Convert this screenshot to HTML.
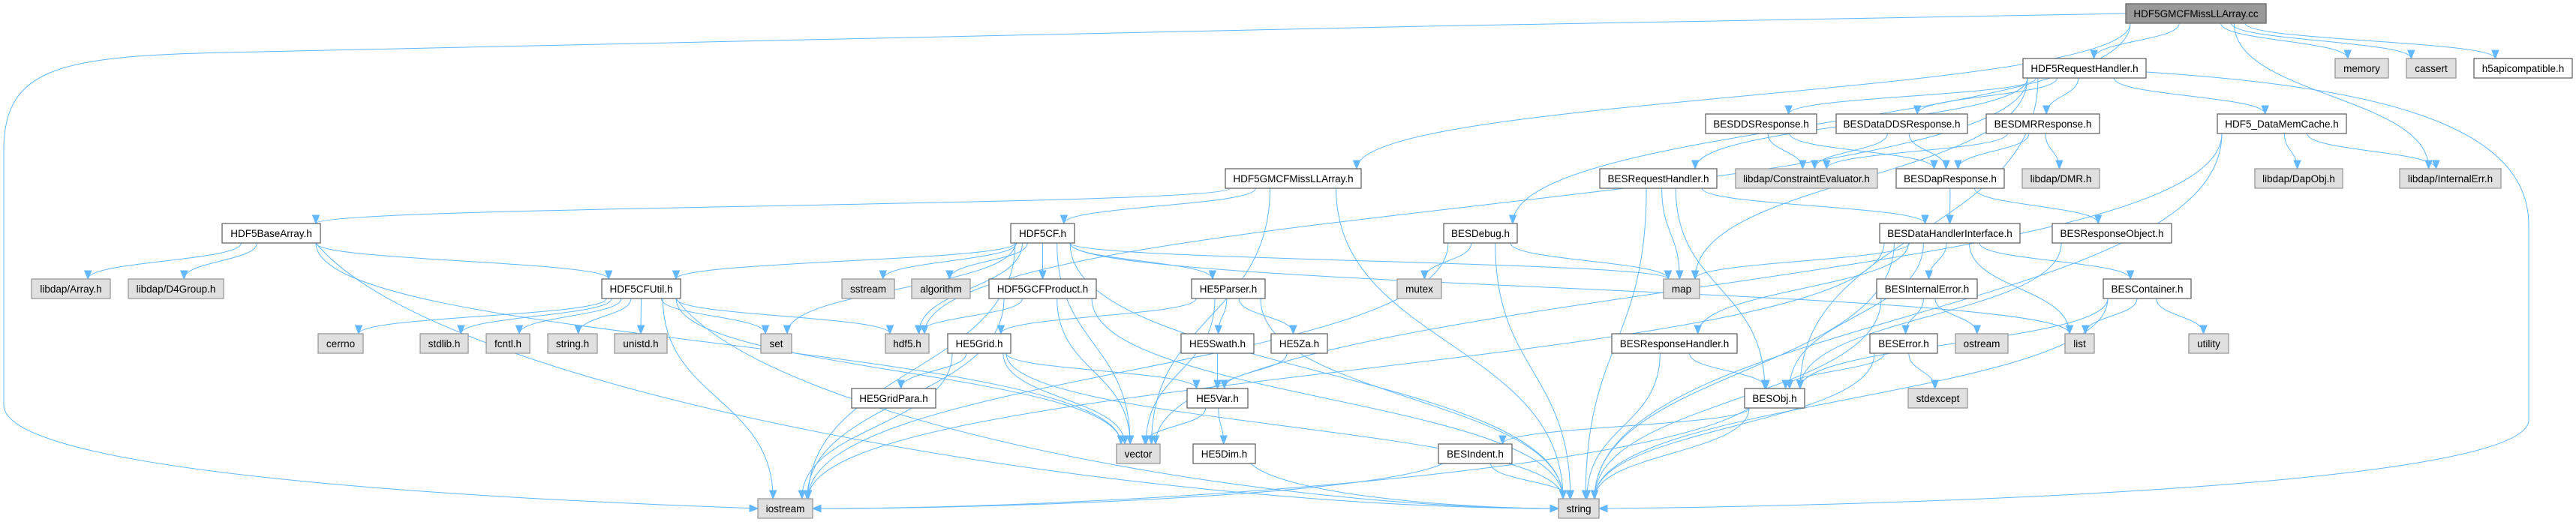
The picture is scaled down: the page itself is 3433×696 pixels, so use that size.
<!DOCTYPE html>
<html><head><meta charset="utf-8">
<style>
html,body{margin:0;padding:0;background:#fff;}
body{width:3433px;height:696px;overflow:hidden;position:relative;}
svg{position:absolute;left:0;top:0;}
text{font-family:"Liberation Sans",Arial,sans-serif;font-size:13.5px;fill:#000;}
</style></head><body>
<svg id="g" width="3433" height="696" xmlns="http://www.w3.org/2000/svg">
<g id="edges" fill="none" stroke="#63b8ff" stroke-width="1"></g>
<g id="heads" fill="#63b8ff" stroke="#63b8ff"></g>
<g id="nodes">
<rect x="2833" y="5" width="187" height="26" fill="#999" stroke="#666" stroke-width="1.3"/><text x="2926.5" y="23" text-anchor="middle">HDF5GMCFMissLLArray.cc</text>
<rect x="2696" y="78" width="164" height="26" fill="#fff" stroke="#666" stroke-width="1.3"/><text x="2778" y="96" text-anchor="middle">HDF5RequestHandler.h</text>
<rect x="3112" y="78" width="71" height="26" fill="#e0e0e0" stroke="#999" stroke-width="1.3"/><text x="3147.5" y="96" text-anchor="middle">memory</text>
<rect x="3207" y="78" width="66" height="26" fill="#e0e0e0" stroke="#999" stroke-width="1.3"/><text x="3240" y="96" text-anchor="middle">cassert</text>
<rect x="3297" y="78" width="131" height="26" fill="#fff" stroke="#666" stroke-width="1.3"/><text x="3362.5" y="96" text-anchor="middle">h5apicompatible.h</text>
<rect x="2273" y="152" width="148" height="26" fill="#fff" stroke="#666" stroke-width="1.3"/><text x="2347" y="170" text-anchor="middle">BESDDSResponse.h</text>
<rect x="2447" y="152" width="175" height="26" fill="#fff" stroke="#666" stroke-width="1.3"/><text x="2534.5" y="170" text-anchor="middle">BESDataDDSResponse.h</text>
<rect x="2647" y="152" width="151" height="26" fill="#fff" stroke="#666" stroke-width="1.3"/><text x="2722.5" y="170" text-anchor="middle">BESDMRResponse.h</text>
<rect x="2955" y="152" width="172" height="26" fill="#fff" stroke="#666" stroke-width="1.3"/><text x="3041" y="170" text-anchor="middle">HDF5_DataMemCache.h</text>
<rect x="1633" y="225" width="181" height="26" fill="#fff" stroke="#666" stroke-width="1.3"/><text x="1723.5" y="243" text-anchor="middle">HDF5GMCFMissLLArray.h</text>
<rect x="2132" y="225" width="156" height="26" fill="#fff" stroke="#666" stroke-width="1.3"/><text x="2210" y="243" text-anchor="middle">BESRequestHandler.h</text>
<rect x="2313" y="225" width="189" height="26" fill="#e0e0e0" stroke="#999" stroke-width="1.3"/><text x="2407.5" y="243" text-anchor="middle">libdap/ConstraintEvaluator.h</text>
<rect x="2527" y="225" width="144" height="26" fill="#fff" stroke="#666" stroke-width="1.3"/><text x="2599" y="243" text-anchor="middle">BESDapResponse.h</text>
<rect x="2695" y="225" width="103" height="26" fill="#e0e0e0" stroke="#999" stroke-width="1.3"/><text x="2746.5" y="243" text-anchor="middle">libdap/DMR.h</text>
<rect x="3005" y="225" width="117" height="26" fill="#e0e0e0" stroke="#999" stroke-width="1.3"/><text x="3063.5" y="243" text-anchor="middle">libdap/DapObj.h</text>
<rect x="3198" y="225" width="135" height="26" fill="#e0e0e0" stroke="#999" stroke-width="1.3"/><text x="3265.5" y="243" text-anchor="middle">libdap/InternalErr.h</text>
<rect x="296" y="298" width="131" height="26" fill="#fff" stroke="#666" stroke-width="1.3"/><text x="361.5" y="316" text-anchor="middle">HDF5BaseArray.h</text>
<rect x="1347" y="298" width="85" height="26" fill="#fff" stroke="#666" stroke-width="1.3"/><text x="1389.5" y="316" text-anchor="middle">HDF5CF.h</text>
<rect x="1924" y="298" width="98" height="26" fill="#fff" stroke="#666" stroke-width="1.3"/><text x="1973" y="316" text-anchor="middle">BESDebug.h</text>
<rect x="2505" y="298" width="187" height="26" fill="#fff" stroke="#666" stroke-width="1.3"/><text x="2598.5" y="316" text-anchor="middle">BESDataHandlerInterface.h</text>
<rect x="2735" y="298" width="159" height="26" fill="#fff" stroke="#666" stroke-width="1.3"/><text x="2814.5" y="316" text-anchor="middle">BESResponseObject.h</text>
<rect x="42" y="372" width="105" height="26" fill="#e0e0e0" stroke="#999" stroke-width="1.3"/><text x="94.5" y="390" text-anchor="middle">libdap/Array.h</text>
<rect x="171" y="372" width="127" height="26" fill="#e0e0e0" stroke="#999" stroke-width="1.3"/><text x="234.5" y="390" text-anchor="middle">libdap/D4Group.h</text>
<rect x="802" y="372" width="105" height="26" fill="#fff" stroke="#666" stroke-width="1.3"/><text x="854.5" y="390" text-anchor="middle">HDF5CFUtil.h</text>
<rect x="1122" y="372" width="70" height="26" fill="#e0e0e0" stroke="#999" stroke-width="1.3"/><text x="1157" y="390" text-anchor="middle">sstream</text>
<rect x="1215" y="372" width="78" height="26" fill="#e0e0e0" stroke="#999" stroke-width="1.3"/><text x="1254" y="390" text-anchor="middle">algorithm</text>
<rect x="1318" y="372" width="143" height="26" fill="#fff" stroke="#666" stroke-width="1.3"/><text x="1389.5" y="390" text-anchor="middle">HDF5GCFProduct.h</text>
<rect x="1588" y="372" width="98" height="26" fill="#fff" stroke="#666" stroke-width="1.3"/><text x="1637" y="390" text-anchor="middle">HE5Parser.h</text>
<rect x="1862" y="372" width="59" height="26" fill="#e0e0e0" stroke="#999" stroke-width="1.3"/><text x="1891.5" y="390" text-anchor="middle">mutex</text>
<rect x="2217" y="372" width="48" height="26" fill="#e0e0e0" stroke="#999" stroke-width="1.3"/><text x="2241" y="390" text-anchor="middle">map</text>
<rect x="2501" y="372" width="134" height="26" fill="#fff" stroke="#666" stroke-width="1.3"/><text x="2568" y="390" text-anchor="middle">BESInternalError.h</text>
<rect x="2803" y="372" width="117" height="26" fill="#fff" stroke="#666" stroke-width="1.3"/><text x="2861.5" y="390" text-anchor="middle">BESContainer.h</text>
<rect x="424" y="445" width="60" height="26" fill="#e0e0e0" stroke="#999" stroke-width="1.3"/><text x="454" y="463" text-anchor="middle">cerrno</text>
<rect x="560" y="445" width="64" height="26" fill="#e0e0e0" stroke="#999" stroke-width="1.3"/><text x="592" y="463" text-anchor="middle">stdlib.h</text>
<rect x="648" y="445" width="58" height="26" fill="#e0e0e0" stroke="#999" stroke-width="1.3"/><text x="677" y="463" text-anchor="middle">fcntl.h</text>
<rect x="730" y="445" width="66" height="26" fill="#e0e0e0" stroke="#999" stroke-width="1.3"/><text x="763" y="463" text-anchor="middle">string.h</text>
<rect x="819" y="445" width="70" height="26" fill="#e0e0e0" stroke="#999" stroke-width="1.3"/><text x="854" y="463" text-anchor="middle">unistd.h</text>
<rect x="1014" y="445" width="41" height="26" fill="#e0e0e0" stroke="#999" stroke-width="1.3"/><text x="1034.5" y="463" text-anchor="middle">set</text>
<rect x="1180" y="445" width="58" height="26" fill="#e0e0e0" stroke="#999" stroke-width="1.3"/><text x="1209" y="463" text-anchor="middle">hdf5.h</text>
<rect x="1263" y="445" width="84" height="26" fill="#fff" stroke="#666" stroke-width="1.3"/><text x="1305" y="463" text-anchor="middle">HE5Grid.h</text>
<rect x="1574" y="445" width="97" height="26" fill="#fff" stroke="#666" stroke-width="1.3"/><text x="1622.5" y="463" text-anchor="middle">HE5Swath.h</text>
<rect x="1694" y="445" width="75" height="26" fill="#fff" stroke="#666" stroke-width="1.3"/><text x="1731.5" y="463" text-anchor="middle">HE5Za.h</text>
<rect x="2148" y="445" width="167" height="26" fill="#fff" stroke="#666" stroke-width="1.3"/><text x="2231.5" y="463" text-anchor="middle">BESResponseHandler.h</text>
<rect x="2492" y="445" width="90" height="26" fill="#fff" stroke="#666" stroke-width="1.3"/><text x="2537" y="463" text-anchor="middle">BESError.h</text>
<rect x="2606" y="445" width="70" height="26" fill="#e0e0e0" stroke="#999" stroke-width="1.3"/><text x="2641" y="463" text-anchor="middle">ostream</text>
<rect x="2752" y="445" width="39" height="26" fill="#e0e0e0" stroke="#999" stroke-width="1.3"/><text x="2771.5" y="463" text-anchor="middle">list</text>
<rect x="2917" y="445" width="53" height="26" fill="#e0e0e0" stroke="#999" stroke-width="1.3"/><text x="2943.5" y="463" text-anchor="middle">utility</text>
<rect x="1135" y="518" width="112" height="26" fill="#fff" stroke="#666" stroke-width="1.3"/><text x="1191" y="536" text-anchor="middle">HE5GridPara.h</text>
<rect x="1582" y="518" width="81" height="26" fill="#fff" stroke="#666" stroke-width="1.3"/><text x="1622.5" y="536" text-anchor="middle">HE5Var.h</text>
<rect x="2325" y="518" width="80" height="26" fill="#fff" stroke="#666" stroke-width="1.3"/><text x="2365" y="536" text-anchor="middle">BESObj.h</text>
<rect x="2543" y="518" width="79" height="26" fill="#e0e0e0" stroke="#999" stroke-width="1.3"/><text x="2582.5" y="536" text-anchor="middle">stdexcept</text>
<rect x="1488" y="592" width="58" height="26" fill="#e0e0e0" stroke="#999" stroke-width="1.3"/><text x="1517" y="610" text-anchor="middle">vector</text>
<rect x="1590" y="592" width="83" height="26" fill="#fff" stroke="#666" stroke-width="1.3"/><text x="1631.5" y="610" text-anchor="middle">HE5Dim.h</text>
<rect x="1917" y="592" width="98" height="26" fill="#fff" stroke="#666" stroke-width="1.3"/><text x="1966" y="610" text-anchor="middle">BESIndent.h</text>
<rect x="1010" y="665" width="73" height="26" fill="#e0e0e0" stroke="#999" stroke-width="1.3"/><text x="1046.5" y="683" text-anchor="middle">iostream</text>
<rect x="2077" y="665" width="54" height="26" fill="#e0e0e0" stroke="#999" stroke-width="1.3"/><text x="2104" y="683" text-anchor="middle">string</text>
</g>
</svg>
<script>
var N={
root:[2833,5,187],rh:[2696,78,164],mem:[3112,78,71],cas:[3207,78,66],h5a:[3297,78,131],
dds:[2273,152,148],ddds:[2447,152,175],dmr:[2647,152,151],dmc:[2955,152,172],
gmh:[1633,225,181],breq:[2132,225,156],ce:[2313,225,189],dap:[2527,225,144],ldmr:[2695,225,103],dobj:[3005,225,117],ie:[3198,225,135],
ba:[296,298,131],cf:[1347,298,85],dbg:[1924,298,98],dhi:[2505,298,187],ro:[2735,298,159],
arr:[42,372,105],d4g:[171,372,127],cfu:[802,372,105],sst:[1122,372,70],alg:[1215,372,78],gcf:[1318,372,143],par:[1588,372,98],mtx:[1862,372,59],map:[2217,372,48],bie:[2501,372,134],bc:[2803,372,117],
cer:[424,445,60],stl:[560,445,64],fcn:[648,445,58],sth:[730,445,66],uni:[819,445,70],set:[1014,445,41],h5:[1180,445,58],grid:[1263,445,84],sw:[1574,445,97],za:[1694,445,75],brh:[2148,445,167],be:[2492,445,90],ost:[2606,445,70],lst:[2752,445,39],uti:[2917,445,53],
gp:[1135,518,112],vr:[1582,518,81],obj:[2325,518,80],sx:[2543,518,79],
vec:[1488,592,58],dim:[1590,592,83],ind:[1917,592,98],ios:[1010,665,73],str:[2077,665,54]};
var H=26;
var E=[
['root','gmh'],['root','rh'],['root','dbg'],['root','mem'],['root','cas'],['root','h5a'],['root','ie'],
['gmh','ba'],['gmh','cf'],['gmh','vec'],['gmh','str'],
['ba','arr'],['ba','d4g'],['ba','cfu'],['ba','vec'],['ba','str'],
['cf','cfu'],['cf','sst'],['cf','alg'],['cf','gcf'],['cf','par'],['cf','map'],['cf','set'],['cf','lst'],['cf','vec'],['cf','str'],['cf','ios'],['cf','h5'],
['cfu','cer'],['cfu','stl'],['cfu','fcn'],['cfu','sth'],['cfu','uni'],['cfu','set'],['cfu','h5'],['cfu','vec'],['cfu','str'],['cfu','ios'],
['gcf','h5'],['gcf','vec'],['gcf','str'],['gcf','ios'],
['par','grid'],['par','sw'],['par','za'],['par','vec'],['par','str'],
['grid','gp'],['grid','vr'],['grid','vec'],['grid','str'],['grid','ios'],
['sw','vr'],['za','vr'],['vr','vec'],['vr','dim'],['dim','str'],
['dbg','mtx'],['dbg','map'],['dbg','str'],['dbg','ios'],
['rh','dds'],['rh','ddds'],['rh','dmr'],['rh','dmc'],['rh','breq'],['rh','h5'],['rh','map'],['rh','obj'],
['dds','ce'],['dds','dap'],['ddds','ce'],['ddds','dap'],['dmr','ce'],['dmr','dap'],['dmr','ldmr'],
['dmc','dobj'],['dmc','ie'],['dmc','str'],['dmc','vec'],
['breq','dhi'],['breq','map'],['breq','str'],['breq','obj'],
['dap','dhi'],['dap','ro'],['ro','obj'],
['dhi','map'],['dhi','lst'],['dhi','bie'],['dhi','bc'],['dhi','brh'],['dhi','obj'],['dhi','str'],['dhi','ios'],
['bie','be'],['bie','ost'],['bie','str'],
['be','obj'],['be','sx'],['be','str'],
['bc','lst'],['bc','uti'],['bc','obj'],['bc','str'],
['brh','obj'],['brh','str'],
['obj','ind'],['obj','ios'],['obj','str'],
['ind','ios'],['ind','str']
];
var eg=document.getElementById('edges'),hg=document.getElementById('heads'),ns='http://www.w3.org/2000/svg';
function add(d,cx,cy,tx,ty){
 var p=document.createElementNS(ns,'path');p.setAttribute('d',d);eg.appendChild(p);
 var dx=tx-cx,dy=ty-cy,l=Math.sqrt(dx*dx+dy*dy)||1;dx/=l;dy/=l;
 var L=11,W=4.5,bx=tx-dx*L,by=ty-dy*L;
 var t=document.createElementNS(ns,'polygon');
 t.setAttribute('points',tx+','+ty+' '+(bx-dy*W)+','+(by+dx*W)+' '+(bx+dy*W)+','+(by-dx*W));
 hg.appendChild(t);
}
var bottom={ios:1,str:1,vec:1};
E.forEach(function(e){
 var s=N[e[0]],t=N[e[1]];
 var scx=s[0]+s[2]/2,tcx=t[0]+t[2]/2;
 var sy=s[1]+H,ty=t[1];
 var dyr=t[1]-s[1];
 var off=Math.max(-s[2]/2+6,Math.min(s[2]/2-6,(tcx-scx)*0.15));
 var sx=scx+off;
 var adx=Math.abs(tcx-sx);
 if(bottom[e[1]] && adx>4*dyr){
  var right=tcx<sx;
  var tx=right?t[0]+t[2]:t[0], tyy=t[1]+13;
  var c1x=sx+(tx-sx)*0.1,c1y=sy+dyr*0.55,c2x=tx-(tx-sx)*0.35,c2y=tyy;
  add('M'+sx+','+sy+' C'+c1x+','+c1y+' '+c2x+','+c2y+' '+tx+','+tyy,c2x,c2y,tx,tyy);
 } else {
  var toff=Math.max(-t[2]/2+6,Math.min(t[2]/2-6,(sx-tcx)*0.1));
  var tx2=tcx+toff,k=(ty-sy)*0.5;
  add('M'+sx+','+sy+' C'+sx+','+(sy+k)+' '+tx2+','+(ty-k)+' '+tx2+','+ty,tx2,ty-k,tx2,ty);
 }
});
add('M2833,18 C2000,30 800,60 300,70 C80,75 5,90 5,200 L5,540 C5,620 500,660 1010,678',700,672,1010,678);
add('M2860,96 C3150,115 3370,160 3370,300 L3370,560 C3370,650 2500,675 2131,678',2400,677,2131,678);
</script>
</body></html>
